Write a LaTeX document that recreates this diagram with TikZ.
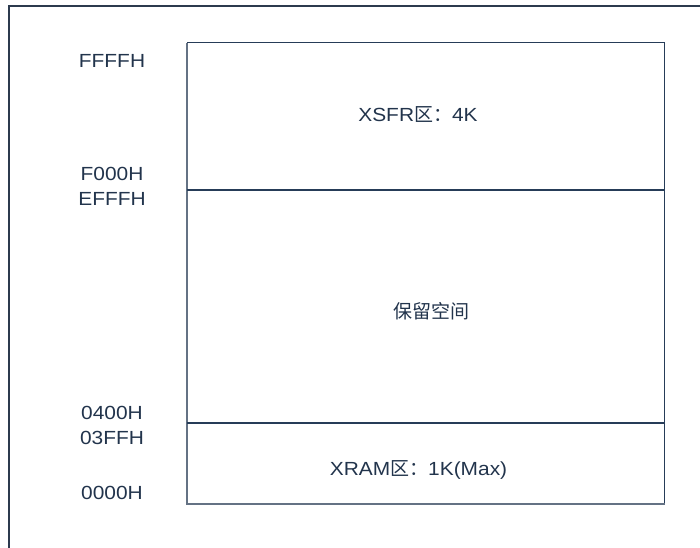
\documentclass[tikz,border=0pt]{standalone}
\usepackage{fontspec}
\setmainfont{Liberation Sans}[FakeStretch=1.1]
\newfontfamily\cjk{Noto Sans CJK SC}
\definecolor{txt}{RGB}{34,52,76}
\definecolor{frame}{RGB}{44,58,78}
\definecolor{darkline}{RGB}{38,60,88}
\definecolor{lightline}{RGB}{100,114,132}
\tikzset{
  addr/.style={text=txt, font=\fontsize{19}{21}\selectfont, inner sep=0pt, anchor=center},
  regtext/.style={text=txt, font=\fontsize{19}{21}\selectfont, inner sep=0pt, anchor=center},
  dark/.style={draw=darkline, line width=1.3pt},
  light/.style={draw=lightline, line width=1.3pt},
}
\begin{document}
\begin{tikzpicture}[x=1pt,y=-1pt]
\useasboundingbox (0,0) rectangle (700,547);
% outer frame (cropped at right and bottom)
\draw[frame, line width=2pt] (9,560) -- (9,6) -- (710,6);
% corners of memory map
\coordinate (tl) at (187,42.5);
\coordinate (tr) at (664.5,42.5);
\coordinate (bl) at (187,504);
\coordinate (br) at (664.5,504);
\coordinate (d1l) at (187,190);
\coordinate (d1r) at (664.5,190);
\coordinate (d2l) at (187,423);
\coordinate (d2r) at (664.5,423);
\draw[dark] (tl) -- (tr) -- (br);
\draw[light] (br) -- (bl) -- (tl);
\draw[dark] (d1l) -- (d1r);
\draw[dark] (d2l) -- (d2r);
% region texts
\node[regtext] (xsfr) at (418,115) {XSFR{\cjk 区：}4K};
\node[regtext] (resv) at (431,311) {\cjk 保留空间};
\node[regtext] (xram) at (418.5,470) {XRAM{\cjk 区：}1K(Max)};
% addresses
\node[addr] (a1) at (112,61) {FFFFH};
\node[addr] (a2) at (112,174) {F000H};
\node[addr] (a3) at (112,198.5) {EFFFH};
\node[addr] (a4) at (112,413) {0400H};
\node[addr] (a5) at (112,438) {03FFH};
\node[addr] (a6) at (112,493) {0000H};
\end{tikzpicture}
\end{document}
